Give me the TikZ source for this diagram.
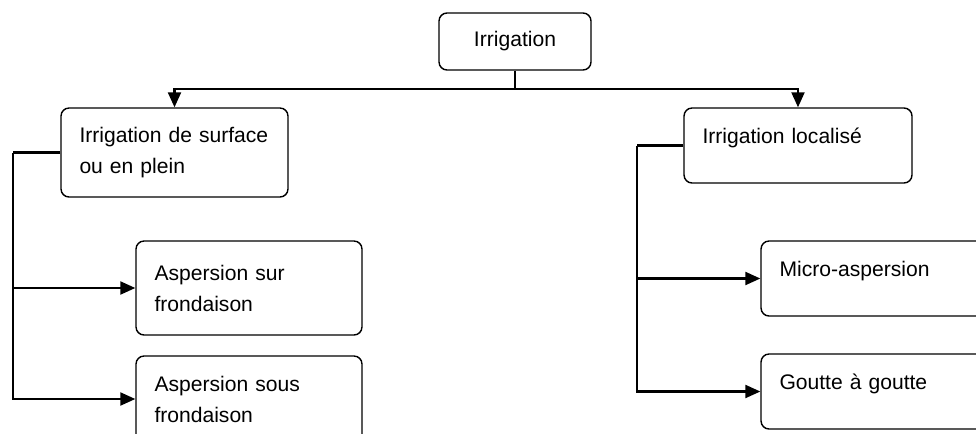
\documentclass[tikz,border=0pt]{standalone}
\usepackage{fontspec}
\setmainfont{Liberation Sans}
\usetikzlibrary{positioning,calc,arrows,arrows.meta}

\begin{document}
\begin{tikzpicture}[x=0.02cm, y=-0.02cm]
	\useasboundingbox (0, 0) rectangle (976, 433);
	\clip (0, 0) rectangle (976, 433);
	\begin{scope}[line width=1.2pt]
		\tikzstyle{every node}=[font=\fontsize{12}{17.6}\selectfont]
		\tikzstyle{box}=[draw, line width=0.8pt, rounded corners=0.16cm, inner xsep=0.37cm, align=left]
		\tikzstyle{toprow}=[text depth=11pt]
		\tikzstyle{arr}=[->, >={Triangle[length=0.3cm, width=0.26cm]}]

		\node [box, align=center, minimum width=3.04cm, minimum height=1.14cm, inner xsep=0pt] (irr) at (515, 41.5) {Irrigation};

		\node [box, text width=3.8cm, minimum height=1.78cm] (surf) at (174.5, 152.5) {Irrigation de surface\\ou en plein};
		\node [box, text width=3.78cm, minimum height=1.88cm] (sur)  at (249, 288)     {Aspersion sur\\frondaison};
		\node [box, text width=3.78cm, minimum height=1.72cm] (sous) at (249, 399)     {Aspersion sous\\frondaison};

		\node [box, toprow, text width=3.82cm, minimum height=1.5cm] (loc)    at (798, 145.5)   {Irrigation localisé};
		\node [box, toprow, text width=3.84cm, minimum height=1.5cm] (micro)  at (875.5, 278.5) {Micro-aspersion};
		\node [box, toprow, text width=3.84cm, minimum height=1.5cm] (goutte) at (875.5, 391.5) {Goutte à goutte};

		\coordinate (bus)    at (515, 89);
		\coordinate (lspine) at (13, 152.5);
		\coordinate (rspine) at (637, 145.5);

		\draw (irr) to (bus);
		\draw [arr] (bus) -| (surf);
		\draw [arr] (bus) -| (loc);

		\draw (surf) to (lspine);
		\draw [arr] (lspine) |- (sur);
		\draw [arr] (lspine) |- (sous);

		\draw (loc) to (rspine);
		\draw [arr] (rspine) |- (micro);
		\draw [arr] (rspine) |- (goutte);
	\end{scope}
\end{tikzpicture}
\end{document}
